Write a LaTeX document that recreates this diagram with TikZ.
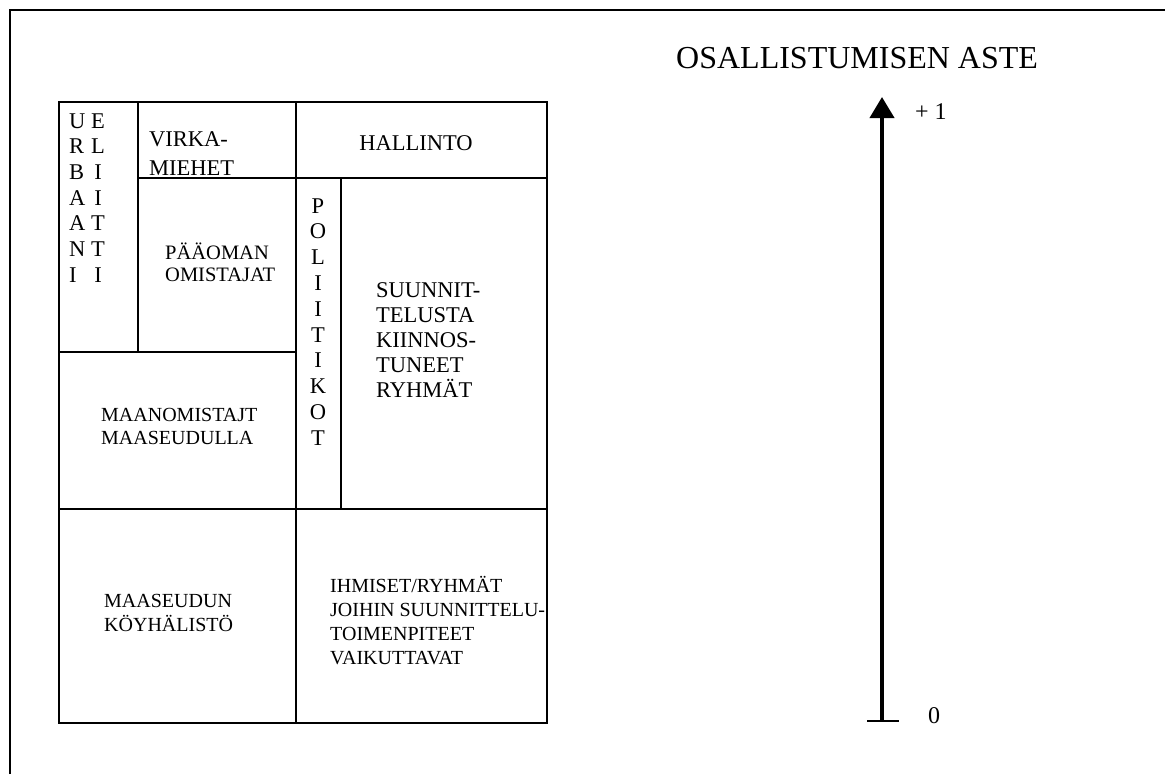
\documentclass[tikz,border=0pt]{standalone}
\usepackage{fontspec}
\setmainfont{Liberation Serif}
\usetikzlibrary{arrows.meta}
\newcommand\fsz[2]{\fontsize{#1}{#2}\selectfont}
\newcommand\cellstack[2]{\begin{tabular}[t]{@{}#1@{}}#2\end{tabular}}
\tikzset{
  frame/.style={line width=2pt},
  grid/.style={line width=2pt},
  lbl/.style={inner sep=0pt, anchor=base west},
  lblc/.style={inner sep=0pt, anchor=base},
  axisline/.style={line width=4pt, -{Triangle[width=24pt,length=21pt]}},
  tick/.style={line width=1.5pt},
}
\begin{document}
\begin{tikzpicture}[x=1pt,y=-1pt]
\useasboundingbox (0,0) rectangle (1165,774);

% page frame (only its top and left edges fall inside the page)
\draw[frame] (10,774) -- (10,10) -- (1165,10);

% table of actors
\draw[grid] (59,102) rectangle (547,723);
\draw[grid] (138,102) -- (138,352);
\draw[grid] (296,102) -- (296,723);
\draw[grid] (138,178) -- (547,178);
\draw[grid] (341,178) -- (341,509);
\draw[grid] (59,352) -- (296,352);
\draw[grid] (59,509) -- (547,509);

% cell texts
\node[lbl, font=\fsz{22.5}{25.7}] (urb) at (69,128)
  {\cellstack{l}{U\\R\\B\\A\\A\\N\\I}};
\node[lblc, font=\fsz{22.5}{25.7}] (eli) at (98,128)
  {\cellstack{c}{E\\L\\I\\I\\T\\T\\I}};
\node[lbl, font=\fsz{22.5}{28.5}] (virka) at (149,146.5)
  {\cellstack{l}{VIRKA-\\MIEHET}};
\node[lblc, font=\fsz{22.5}{25}] (hall) at (416,150) {HALLINTO};
\node[lbl, font=\fsz{20.5}{22.5}] (paa) at (165,259)
  {\cellstack{l}{PÄÄOMAN\\OMISTAJAT}};
\node[lblc, font=\fsz{22.5}{25.8}] (pol) at (318,213)
  {\cellstack{c}{P\\O\\L\\I\\I\\T\\I\\K\\O\\T}};
\node[lbl, font=\fsz{22.5}{25}] (suun) at (376,297)
  {\cellstack{l}{SUUNNIT-\\TELUSTA\\KIINNOS-\\TUNEET\\RYHMÄT}};
\node[lbl, font=\fsz{20}{23}] (maan) at (101,421)
  {\cellstack{l}{MAANOMISTAJT\\MAASEUDULLA}};
\node[lbl, font=\fsz{20}{24}] (kbh) at (104,607)
  {\cellstack{l}{MAASEUDUN\\KÖYHÄLISTÖ}};
\node[lbl, font=\fsz{20}{24}] (ihm) at (330,592)
  {\cellstack{l}{IHMISET/RYHMÄT\\JOIHIN SUUNNITTELU-\\TOIMENPITEET\\VAIKUTTAVAT}};

% participation scale
\node[lbl, font=\fsz{32}{36}] (title) at (676,68) {OSALLISTUMISEN ASTE};
\coordinate (axis0) at (882,721);
\coordinate (axis1) at (882,97);
\coordinate (tickL) at (867,721);
\coordinate (tickR) at (899,721);
\draw[axisline] (axis0) -- (axis1);
\draw[tick] (tickL) -- (tickR);
\node[lbl, font=\fsz{24}{28}] (one) at (915,119) {+ 1};
\node[lblc, font=\fsz{24}{28}] (zero) at (934,723) {0};
\end{tikzpicture}
\end{document}
